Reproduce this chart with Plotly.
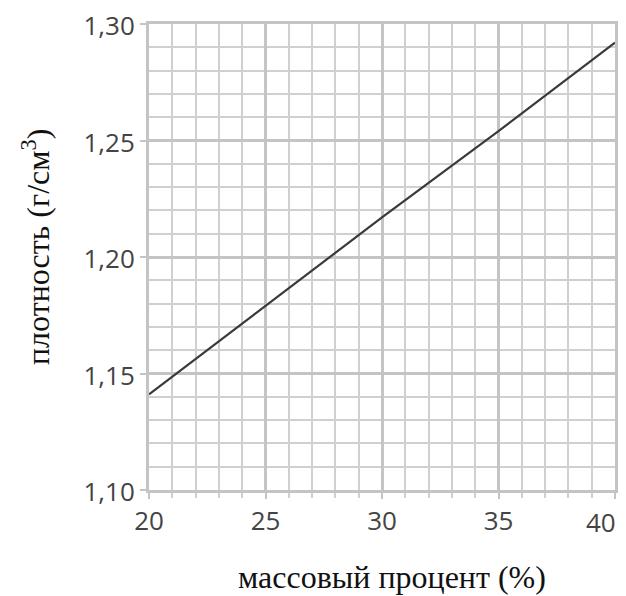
import plotly.graph_objects as go

mass_percent = [20, 25, 30, 35, 40]
density = [1.141, 1.179, 1.217, 1.254, 1.292]

x_tick_vals = [20, 25, 30, 35, 40]
x_tick_text = ["20", "25", "30", "35", "40"]
y_tick_vals = [1.10, 1.15, 1.20, 1.25, 1.30]
y_tick_text = ["1,10", "1,15", "1,20", "1,25", "1,30"]

x_title = "массовый процент (%)"
y_title = "плотность (г/см<sup>3</sup>)"

fig = go.Figure()
fig.add_trace(go.Scatter(
    x=mass_percent, y=density, mode="lines",
    line=dict(color="#3a3a3a", width=2.2),
    showlegend=False, hoverinfo="skip",
))

grid_major = "#c4c4c4"
grid_minor = "#d0d0d0"
tick_font = dict(family="Open Sans", size=26, color="#444444")
title_font = dict(family="Liberation Serif", size=32, color="#111111")

# the last x label sits left of its tick (as in the reference) so it stays in view
shown_x_text = x_tick_text[:-1] + [""]

fig.update_layout(
    width=626, height=596,
    margin=dict(l=141, r=19, t=16, b=114, autoexpand=False),
    paper_bgcolor="white", plot_bgcolor="white",
    xaxis=dict(
        range=[20, 40], tickvals=x_tick_vals, ticktext=shown_x_text,
        showgrid=True, gridcolor=grid_major, gridwidth=2.5,
        showline=True, linecolor=grid_major, linewidth=3, mirror=True,
        ticks="outside", ticklen=6, tickcolor=grid_major, tickwidth=2,
        tickfont=tick_font, zeroline=False, fixedrange=True,
        ticklabeloverflow="allow", automargin=False,
        minor=dict(dtick=1, showgrid=True, gridcolor=grid_minor, gridwidth=1.5,
                   ticks="outside", ticklen=5, tickcolor=grid_minor, tickwidth=1.5),
    ),
    yaxis=dict(
        range=[1.10, 1.30], tickvals=y_tick_vals, ticktext=y_tick_text,
        showgrid=True, gridcolor=grid_major, gridwidth=2.5,
        showline=True, linecolor=grid_major, linewidth=3, mirror=True,
        ticks="outside", ticklen=6, tickcolor=grid_major, tickwidth=2,
        tickfont=tick_font, zeroline=False, fixedrange=True,
        ticklabeloverflow="allow", automargin=False, ticklabelshift=2,
        minor=dict(dtick=0.01, showgrid=True, gridcolor=grid_minor, gridwidth=1.5),
    ),
    annotations=[
        dict(text=x_tick_text[-1], xref="x", yref="paper", x=x_tick_vals[-1], y=0,
             xanchor="right", yanchor="middle", xshift=3, yshift=-32,
             showarrow=False, font=tick_font),
        dict(text=x_title, xref="paper", yref="paper", x=0.5, y=0,
             xanchor="center", yanchor="middle", xshift=10, yshift=-87,
             showarrow=False, font=title_font),
        dict(text=y_title, xref="paper", yref="paper", x=0, y=0.5,
             xanchor="center", yanchor="middle", xshift=-113, yshift=10,
             textangle=-90, showarrow=False, font=title_font),
    ],
)

fig.write_html("out.html")
